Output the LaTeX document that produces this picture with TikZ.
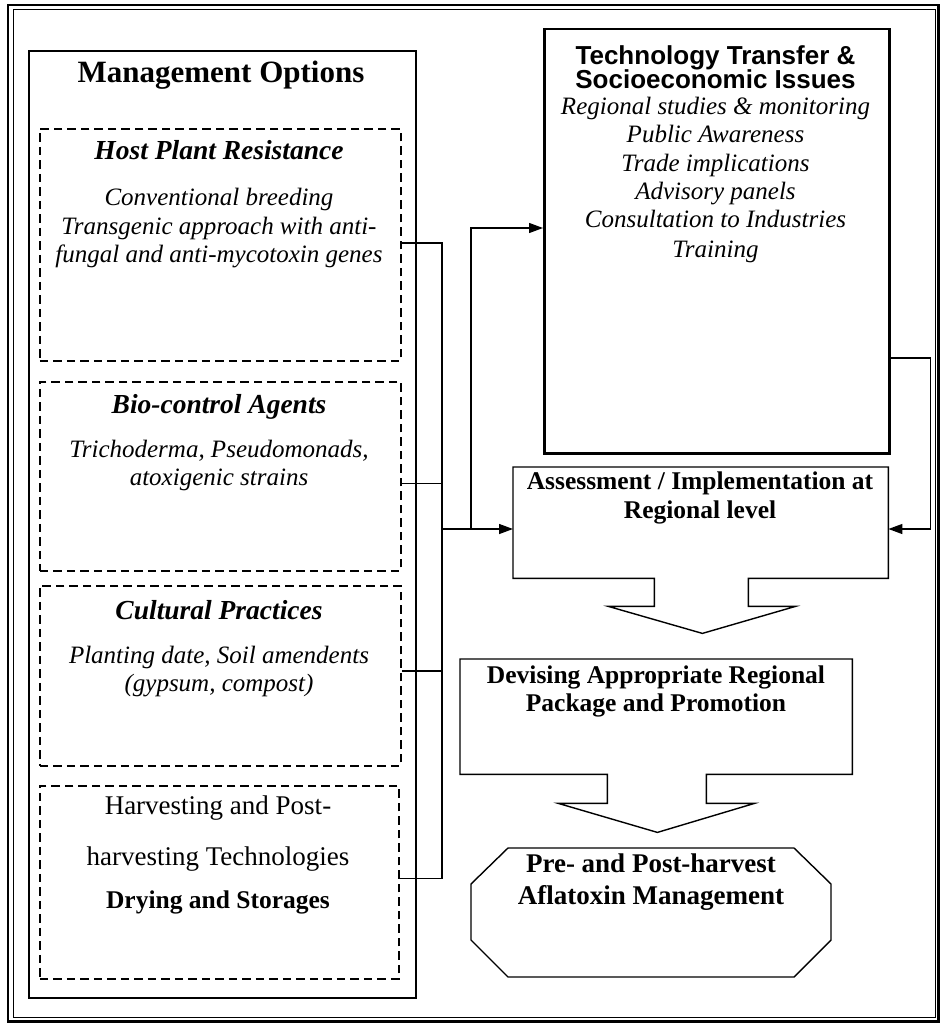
\documentclass[tikz,border=0pt]{standalone}
\usepackage{fontspec}
\setmainfont{Liberation Serif}
\newfontfamily\arialfont{Liberation Sans}
\usetikzlibrary{arrows.meta,calc}
\begin{document}
\begin{tikzpicture}[x=1pt,y=-1pt,
  solidbox/.style={draw, line width=2pt, rectangle, inner sep=0pt, anchor=north west},
  dashbox/.style={draw, line width=1.9pt, dash pattern=on 8.5pt off 5pt, rectangle, inner sep=0pt, anchor=north west},
  plainbox/.style={rectangle, inner sep=0pt, anchor=north west},
  outline/.style={line width=1.4pt, line join=miter},
  conn/.style={line width=1.3pt},
  arr/.style={conn, -{Triangle[length=14pt,width=10pt]}},
  txt/.style={anchor=base, inner sep=0pt},
  bigtitle/.style={txt, font=\fontsize{31}{34}\selectfont\bfseries},
  subtitle/.style={txt, font=\fontsize{27.5}{30}\selectfont\bfseries\itshape},
  itl/.style={txt, font=\fontsize{25}{28}\selectfont\itshape},
  upr/.style={txt, font=\fontsize{27}{30}\selectfont},
  bld/.style={txt, font=\fontsize{25.5}{28}\selectfont\bfseries},
  bldl/.style={txt, font=\fontsize{27}{30}\selectfont\bfseries},
  sanst/.style={txt, font=\fontsize{26}{30}\selectfont\arialfont\bfseries}
]
\useasboundingbox (0,0) rectangle (940,1024);
% outer double frame
\draw[line width=2.5pt] (8,5) rectangle (938.5,1021.5);
\draw[line width=1pt] (13,10) rectangle (935,1017);

% left column
\node[solidbox, minimum width=387pt, minimum height=947pt] (mgmt) at (28,50) {};
\node[dashbox, minimum width=361pt, minimum height=232pt] (b1) at (39,128) {};
\node[dashbox, minimum width=361pt, minimum height=189pt] (b2) at (39,381) {};
\node[dashbox, minimum width=361pt, minimum height=180pt] (b3) at (39,585) {};
\node[dashbox, minimum width=359pt, minimum height=193pt] (b4) at (39,785) {};

\node[bigtitle] (t0) at (221,83) {Management Options};

\node[subtitle] (t1) at (219,160) {Host Plant Resistance};
\node[itl] (t1a) at (219,206) {Conventional breeding};
\node[itl] (t1b) at (219,234) {Transgenic approach with anti-};
\node[itl] (t1c) at (219,262) {fungal and anti-mycotoxin genes};

\node[subtitle] (t2) at (219,413) {Bio-control Agents};
\node[itl] (t2a) at (219,457) {Trichoderma, Pseudomonads,};
\node[itl] (t2b) at (219,485) {atoxigenic strains};

\node[subtitle] (t3) at (219,619) {Cultural Practices};
\node[itl] (t3a) at (219,663) {Planting date, Soil amendents};
\node[itl] (t3b) at (219,691) {(gypsum, compost)};

\node[upr] (t4) at (218,814) {Harvesting and Post-};
\node[upr] (t4a) at (218,865) {harvesting Technologies};
\node[bld] (t4b) at (218,908) {Drying and Storages};

% technology transfer box
\node[draw, line width=2.5pt, plainbox, minimum width=345pt, minimum height=424pt] (tt) at (543,28) {};
\node[sanst] (tt1) at (715.5,65) {Technology Transfer \&};
\node[sanst] (tt2) at (715.5,89) {Socioeconomic Issues};
\node[itl] (tt3) at (715.5,115) {Regional studies \& monitoring};
\node[itl] (tt4) at (715.5,143) {Public Awareness};
\node[itl] (tt5) at (715.5,172) {Trade implications};
\node[itl] (tt6) at (715.5,200) {Advisory panels};
\node[itl] (tt7) at (715.5,228) {Consultation to Industries};
\node[itl] (tt8) at (715.5,257) {Training};

% assessment block arrow
\node[plainbox, minimum width=375pt, minimum height=111pt] (as) at (513,467) {};
\draw[outline] (as.south west) -- (as.north west) -- (as.north east) -- (as.south east)
  -- ++(-140,0) -- ++(0,28) -- ++(47,0) -- ++(-93,27) -- ++(-94,-27) -- ++(46,0) -- ++(0,-28) -- cycle;
\node[bld] (as1) at (700,489) {Assessment / Implementation at};
\node[bld] (as2) at (700,518) {Regional level};

% devising block arrow
\node[plainbox, minimum width=392pt, minimum height=115pt] (dv) at (460,659) {};
\draw[outline] (dv.south west) -- (dv.north west) -- (dv.north east) -- (dv.south east)
  -- ++(-146,0) -- ++(0,29) -- ++(48,0) -- ++(-97,29) -- ++(-99,-29) -- ++(49,0) -- ++(0,-29) -- cycle;
\node[bld] (dv1) at (656,683) {Devising Appropriate Regional};
\node[bld] (dv2) at (656,711) {Package and Promotion};

% octagon goal
\node[plainbox, minimum width=360pt, minimum height=129pt] (goal) at (471,848) {};
\draw[outline] (508,848) -- (794,848) -- (831,884) -- (831,940) -- (794,977) -- (508,977) -- (471,940) -- (471,884) -- cycle;
\node[bldl] (g1) at (651,872) {Pre- and Post-harvest};
\node[bldl] (g2) at (651,904) {Aflatoxin Management};

% connectors
\coordinate (bus) at (442,0);
\coordinate (bus2) at (471,0);
\coordinate (c1) at ($(b1.east)+(0,-2)$);
\coordinate (c2) at ($(b2.east)+(0,7)$);
\coordinate (c3) at ($(b3.east)+(0,-5)$);
\coordinate (c4) at ($(b4.east)+(0,-4)$);
\draw[conn] (c1) -- (c1 -| bus) -- (c4 -| bus) -- (c4);
\draw[conn] (c2) -- (c2 -| bus);
\draw[conn] (c3) -- (c3 -| bus);
\coordinate (asin) at ($(as.north west)+(0,62)$);
\draw[arr] (asin -| bus) -- (asin);
\coordinate (ttin) at ($(tt.north west)+(0,200)$);
\draw[arr] (asin -| bus2) -- (ttin -| bus2) -- (ttin);
\coordinate (ttout) at ($(tt.north east)+(0,330)$);
\coordinate (asr) at ($(as.north east)+(0,62)$);
\draw[arr] (ttout) -- ++(40,0) |- (asr);
\end{tikzpicture}
\end{document}
